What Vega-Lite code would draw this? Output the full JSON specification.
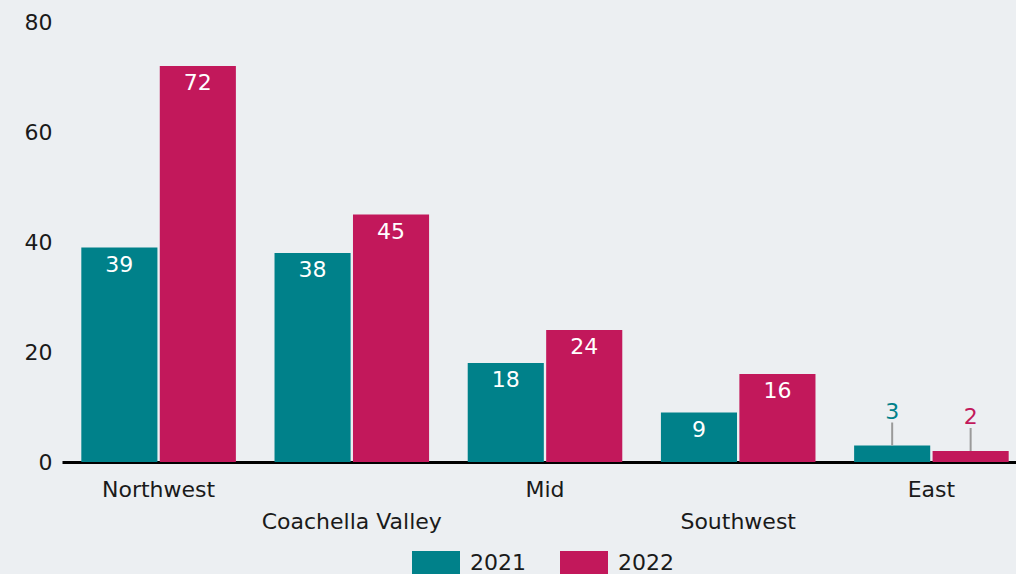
{
  "$schema": "https://vega.github.io/schema/vega-lite/v6.json",
  "autosize": "none",
  "width": 966,
  "height": 440,
  "padding": {"left": 62, "top": 22, "right": 0, "bottom": 112},
  "background": "#eceff2",
  "config": {
    "view": {"stroke": null},
    "font": "DejaVu Sans",
    "text": {"font": "DejaVu Sans"}
  },
  "data": {
    "values": [
      {"region": "Northwest", "year": "2021", "value": 39},
      {"region": "Northwest", "year": "2022", "value": 72},
      {"region": "Coachella Valley", "year": "2021", "value": 38},
      {"region": "Coachella Valley", "year": "2022", "value": 45},
      {"region": "Mid", "year": "2021", "value": 18},
      {"region": "Mid", "year": "2022", "value": 24},
      {"region": "Southwest", "year": "2021", "value": 9},
      {"region": "Southwest", "year": "2022", "value": 16},
      {"region": "East", "year": "2021", "value": 3},
      {"region": "East", "year": "2022", "value": 2}
    ]
  },
  "encoding": {
    "x": {
      "field": "region",
      "type": "nominal",
      "sort": ["Northwest", "Coachella Valley", "Mid", "Southwest", "East"],
      "scale": {"paddingInner": 0.2, "paddingOuter": 0.1},
      "axis": {
        "title": null,
        "labelAngle": 0,
        "labelFont": "DejaVu Sans",
        "labelFontSize": 22,
        "labelColor": "#1a1a1a",
        "labelBaseline": "top",
        "labelLimit": 400,
        "labelOverlap": false,
        "labelPadding": {"condition": {"test": "indexof(['Coachella Valley','Southwest'], datum.value) >= 0", "value": 49}, "value": 17},
        "ticks": false,
        "domainColor": "#000000",
        "domainWidth": 3,
        "grid": false
      }
    },
    "xOffset": {
      "field": "year",
      "type": "nominal",
      "scale": {"paddingInner": 0.03}
    },
    "y": {
      "field": "value",
      "type": "quantitative",
      "scale": {"domain": [0, 80]},
      "axis": {
        "title": null,
        "values": [0, 20, 40, 60, 80],
        "domain": false,
        "ticks": false,
        "grid": false,
        "labelFont": "DejaVu Sans",
        "labelFontSize": 22,
        "labelColor": "#1a1a1a",
        "labelPadding": 10
      }
    }
  },
  "layer": [
    {
      "mark": {"type": "bar"},
      "encoding": {
        "color": {
          "field": "year",
          "type": "nominal",
          "scale": {"domain": ["2021", "2022"], "range": ["#00818a", "#c2185b"]},
          "legend": {
            "title": null,
            "orient": "none",
            "direction": "horizontal",
            "legendX": 350,
            "legendY": 517,
            "symbolType": "M-1,-0.5H1V0.5H-1Z",
            "symbolSize": 2304,
            "symbolStrokeWidth": 0,
            "symbolOpacity": 1,
            "labelFont": "DejaVu Sans",
            "labelFontSize": 22,
            "labelColor": "#1a1a1a",
            "labelOffset": 10,
            "columnPadding": 34
          }
        }
      }
    },
    {
      "transform": [{"filter": "datum.value >= 5"}],
      "mark": {"type": "text", "baseline": "middle", "dy": 17, "fontSize": 22, "color": "white", "font": "DejaVu Sans"},
      "encoding": {"text": {"field": "value", "type": "quantitative"}}
    },
    {
      "transform": [{"filter": "datum.value < 5"}],
      "mark": {"type": "rule", "color": "#9a9a9a", "strokeWidth": 2, "y2Offset": -23},
      "encoding": {"y2": {"field": "value"}}
    },
    {
      "transform": [{"filter": "datum.value < 5"}],
      "mark": {"type": "text", "baseline": "middle", "dy": -34, "fontSize": 22, "font": "DejaVu Sans"},
      "encoding": {
        "text": {"field": "value", "type": "quantitative"},
        "color": {"field": "year", "type": "nominal"}
      }
    }
  ]
}
